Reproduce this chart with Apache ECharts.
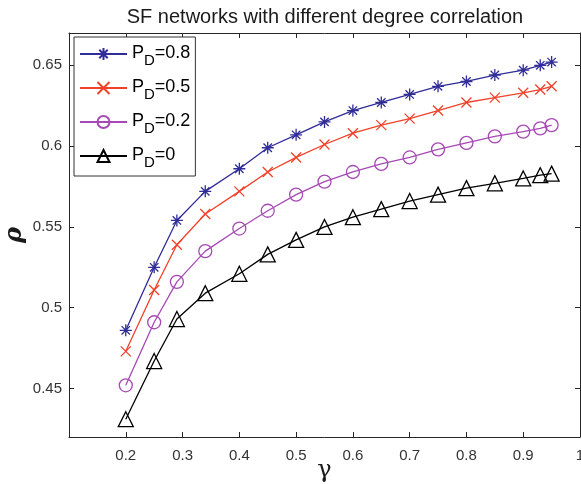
<!DOCTYPE html>
<html>
<head>
<meta charset="utf-8">
<script src="https://cdn.jsdelivr.net/npm/echarts@6/dist/echarts.min.js"></script>
<style>
  html, body { margin: 0; padding: 0; background: #fff; }
  #chart { width: 581px; height: 484px; }
</style>
</head>
<body>
<div id="chart"></div>
<script>
// gamma values (x) and rho for each P_D
const gamma = [0.2, 0.25, 0.29, 0.34, 0.4, 0.45, 0.5, 0.55, 0.6, 0.65, 0.7, 0.75, 0.8, 0.85, 0.9, 0.93, 0.95];
const rhoPD08 = [0.486, 0.525, 0.554, 0.572, 0.586, 0.599, 0.607, 0.615, 0.622, 0.627, 0.632, 0.637, 0.640, 0.644, 0.647, 0.650, 0.652];
const rhoPD05 = [0.473, 0.511, 0.539, 0.558, 0.572, 0.584, 0.593, 0.601, 0.608, 0.613, 0.617, 0.622, 0.627, 0.630, 0.633, 0.635, 0.637];
const rhoPD02 = [0.452, 0.491, 0.516, 0.535, 0.549, 0.560, 0.570, 0.578, 0.584, 0.589, 0.593, 0.598, 0.602, 0.606, 0.609, 0.611, 0.613];
const rhoPD00 = [0.431, 0.467, 0.493, 0.509, 0.521, 0.533, 0.542, 0.550, 0.556, 0.561, 0.566, 0.570, 0.574, 0.577, 0.580, 0.582, 0.583];
const seriesNames = ['P_D=0.8', 'P_D=0.5', 'P_D=0.2', 'P_D=0'];

const titleText = 'SF networks with different degree correlation';
const axisColor = '#262626';
const font = '"Liberation Sans", Arial, Helvetica, sans-serif';

const asterisk = 'path://M0,-10L0,10M-10,0L10,0M-7,-7L7,7M-7,7L7,-7';
const cross = 'path://M-1,-1L1,1M-1,1L1,-1';

function pairs(ys) {
  return gamma.map((g, i) => [g, ys[i]]);
}

function makeSeries(name, ys, color, symbol, size) {
  return {
    name: name,
    type: 'line',
    data: pairs(ys),
    symbol: symbol,
    symbolSize: size,
    lineStyle: { color: color, width: 1.3 },
    itemStyle: { color: 'none', borderColor: color, borderWidth: 1.3 },
    emphasis: { disabled: true },
    z: 3
  };
}

const chart = echarts.init(document.getElementById('chart'), null, { renderer: 'canvas' });

const valueAxisCommon = {
  type: 'value',
  axisLine: { show: true, lineStyle: { color: axisColor, width: 1 } },
  axisTick: { show: true, inside: true, length: 5, lineStyle: { color: axisColor } },
  splitLine: { show: false }
};

const option = {
  animation: false,
  backgroundColor: '#fff',
  textStyle: { fontFamily: font },
  graphic: [{
    type: 'text',
    x: 325,
    y: 17,
    style: {
      text: titleText,
      font: '20px ' + font,
      fill: '#1a1a1a',
      textAlign: 'center',
      textVerticalAlign: 'middle'
    }
  }],
  grid: { left: 69, right: 1, top: 33, bottom: 47, containLabel: false, outerBoundsMode: 'none' },
  legend: {
    orient: 'vertical',
    left: 74,
    top: 37,
    padding: [3, 5, 6, 5],
    itemGap: 6,
    itemWidth: 47,
    itemHeight: 15,
    backgroundColor: '#fff',
    borderColor: '#333',
    borderWidth: 1,
    borderRadius: 0,
    data: seriesNames,
    formatter: function (n) {
      const rest = n.split('_D')[1];
      return '{p|P}{d|D}{p|' + rest + '}';
    },
    textStyle: {
      color: '#000',
      rich: {
        p: { fontSize: 18, lineHeight: 20, verticalAlign: 'top', fontFamily: font, color: '#000' },
        d: { fontSize: 15, lineHeight: 15, padding: [13, 0, 0, 0], fontFamily: font, color: '#000' }
      }
    }
  },
  xAxis: [
    Object.assign({}, valueAxisCommon, {
      position: 'bottom',
      min: 0.1,
      max: 1,
      interval: 0.1,
      name: 'γ',
      nameLocation: 'middle',
      nameGap: 22,
      nameMoveOverlap: false,
      nameTextStyle: { fontFamily: '"DejaVu Serif", "Liberation Serif", serif', fontSize: 24, color: '#1a1a1a' },
      axisLabel: {
        margin: 11,
        fontSize: 15,
        color: '#333',
        fontFamily: font,
        formatter: function (v) { return Math.abs(v - 0.1) < 1e-9 ? '' : String(+v.toFixed(2)); }
      }
    }),
    Object.assign({}, valueAxisCommon, {
      position: 'top',
      min: 0.1,
      max: 1,
      interval: 0.1,
      axisLabel: { show: false }
    })
  ],
  yAxis: [
    Object.assign({}, valueAxisCommon, {
      position: 'left',
      min: 0.42,
      max: 0.67,
      splitNumber: 5,
      name: 'ρ',
      nameLocation: 'middle',
      nameGap: 42,
      nameMoveOverlap: false,
      nameTextStyle: { fontFamily: '"DejaVu Serif", "Liberation Serif", serif', fontSize: 24, fontStyle: 'italic', fontWeight: 'bold', color: '#1a1a1a' },
      axisLabel: { margin: 7, fontSize: 15, color: '#333', fontFamily: font, showMinLabel: false, showMaxLabel: false }
    }),
    Object.assign({}, valueAxisCommon, {
      position: 'right',
      min: 0.42,
      max: 0.67,
      splitNumber: 5,
      axisLabel: { show: false }
    })
  ],
  series: [
    makeSeries(seriesNames[0], rhoPD08, '#302c98', asterisk, 12),
    makeSeries(seriesNames[1], rhoPD05, '#f0412a', cross, 10),
    makeSeries(seriesNames[2], rhoPD02, '#a649b4', 'circle', 13),
    makeSeries(seriesNames[3], rhoPD00, '#000000', 'triangle', 15)
  ]
};

chart.setOption(option);
</script>
</body>
</html>
